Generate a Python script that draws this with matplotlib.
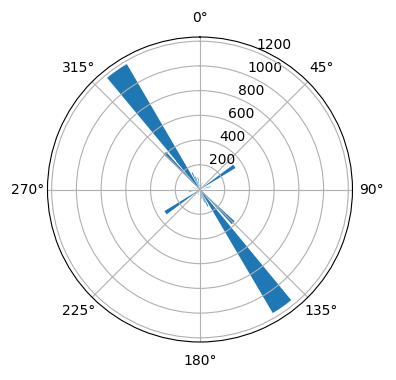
import numpy as np
import matplotlib

matplotlib.use("Agg")
import matplotlib.pyplot as plt

# bar directions (deg, clockwise from north), counts and angular widths (deg)
angles = [325, 316, 321, 335, 340, 350, 5, 20, 56, 75, 100,
          135, 145, 155, 160, 168, 200, 236, 260, 285]
counts = [1175, 410, 300, 150, 110, 100, 80, 60, 336, 90, 60,
          380, 1160, 150, 110, 80, 50, 336, 90, 60]
widths = [9.5, 4, 2, 3, 3, 3, 3, 3, 5.5, 3, 3,
          5, 9, 3, 3, 3, 3, 5.5, 3, 3]

fig = plt.figure(figsize=(3.96, 3.8), dpi=100)
ax = fig.add_axes([0.1199, 0.1, 0.7702, 0.8026], projection="polar")
ax.set_theta_zero_location("N")
ax.set_theta_direction(-1)
ax.bar(np.deg2rad(angles), counts, width=np.deg2rad(widths), color="C0")

fig.savefig("out.png", dpi=100)
